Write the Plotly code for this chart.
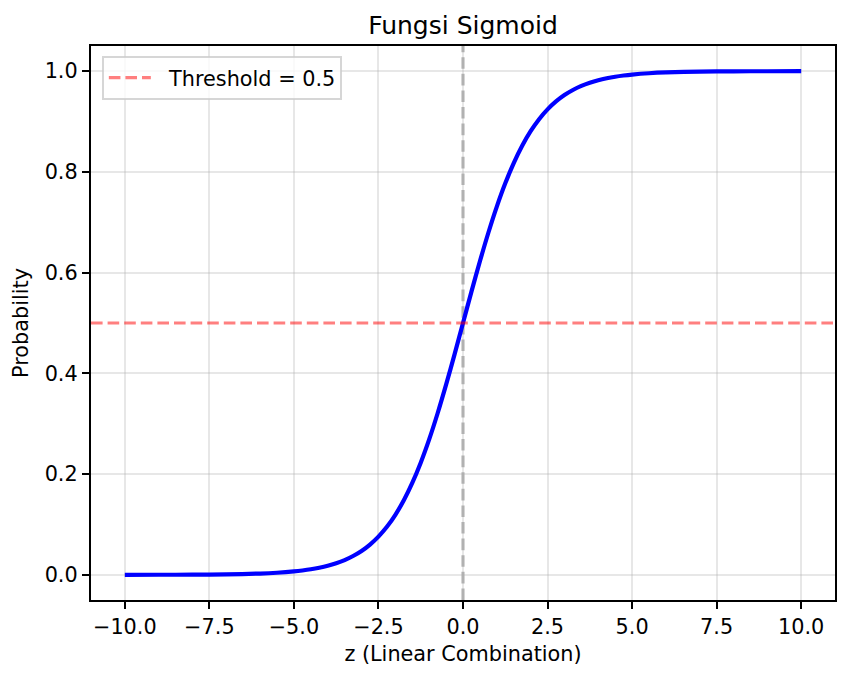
import plotly.graph_objects as go

# Values
z_vals = [-10, -9, -8, -7, -6, -5.5,
          -5, -4.75, -4.5, -4.25, -4, -3.75, -3.5, -3.25, -3, -2.75, -2.5, -2.25,
          -2, -1.75, -1.5, -1.25, -1, -0.75, -0.5, -0.25, 0,
          0.25, 0.5, 0.75, 1, 1.25, 1.5, 1.75, 2, 2.25, 2.5, 2.75, 3, 3.25, 3.5,
          3.75, 4, 4.25, 4.5, 4.75, 5,
          5.5, 6, 7, 8, 9, 10]
p_vals = [0.00005, 0.0001, 0.0003, 0.0009, 0.0025, 0.0041,
          0.0067, 0.0086, 0.0110, 0.0141, 0.0180, 0.0230, 0.0293, 0.0374, 0.0474, 0.0601, 0.0759, 0.0953,
          0.1192, 0.1480, 0.1824, 0.2227, 0.2689, 0.3208, 0.3775, 0.4378, 0.5,
          0.5622, 0.6225, 0.6792, 0.7311, 0.7773, 0.8176, 0.8520, 0.8808, 0.9047, 0.9241, 0.9399, 0.9526, 0.9626, 0.9707,
          0.9770, 0.9820, 0.9859, 0.9890, 0.9914, 0.9933,
          0.9959, 0.9975, 0.9991, 0.9997, 0.9999, 0.99995]

threshold = 0.5
x_ticks = [-10.0, -7.5, -5.0, -2.5, 0.0, 2.5, 5.0, 7.5, 10.0]
x_tick_text = ["\u221210.0", "\u22127.5", "\u22125.0", "\u22122.5", "0.0", "2.5", "5.0", "7.5", "10.0"]
y_ticks = [0.0, 0.2, 0.4, 0.6, 0.8, 1.0]
y_tick_text = ["0.0", "0.2", "0.4", "0.6", "0.8", "1.0"]

FONT = "DejaVu Sans"
fig = go.Figure()

fig.add_trace(go.Scatter(x=z_vals, y=p_vals, mode="lines",
                         line=dict(color="#0000ff", width=4.2, shape="spline", smoothing=0.8),
                         showlegend=False, hoverinfo="skip"))

fig.add_vline(x=0, line=dict(color="rgba(0,0,0,0.3)", width=3.1, dash="11.6px,5px"), layer="below")
fig.add_hline(y=threshold, line=dict(color="rgba(255,0,0,0.5)", width=3.1, dash="11.6px,5px"),
              showlegend=True, name="\u00a0\u00a0Threshold = 0.5")

axis_common = dict(showline=True, linecolor="black", linewidth=1.67, mirror=True,
                   ticks="outside", ticklen=7.3, tickwidth=1.67, tickcolor="black",
                   showgrid=True, gridcolor="rgba(176,176,176,0.3)", gridwidth=1.67,
                   zeroline=False, tickfont=dict(family=FONT, size=20.8, color="black"))

fig.update_layout(
    width=850, height=678,
    margin=dict(l=91, r=15, t=46, b=78),
    paper_bgcolor="white", plot_bgcolor="white",
    font=dict(family=FONT, color="black"),
    title=dict(text="Fungsi Sigmoid", font=dict(family=FONT, size=25, color="black"),
               x=0.5, xref="paper", xanchor="center",
               y=1 - 25 / 678, yref="container", yanchor="middle"),
    xaxis=dict(range=[-11, 11], tickvals=x_ticks, ticktext=x_tick_text,
               title=dict(text="z (Linear Combination)", font=dict(family=FONT, size=20.8), standoff=8),
               **axis_common),
    yaxis=dict(range=[-0.05, 1.05], tickvals=y_ticks, ticktext=y_tick_text,
               title=dict(text="Probability", font=dict(family=FONT, size=20.8), standoff=10),
               **axis_common),
    legend=dict(x=0.015, y=0.982, xanchor="left", yanchor="top", itemwidth=42,
                bgcolor="rgba(255,255,255,0.8)", bordercolor="rgba(204,204,204,0.8)", borderwidth=1.67,
                font=dict(family=FONT, size=20.8, color="black")),
)

fig.write_html("out.html")
